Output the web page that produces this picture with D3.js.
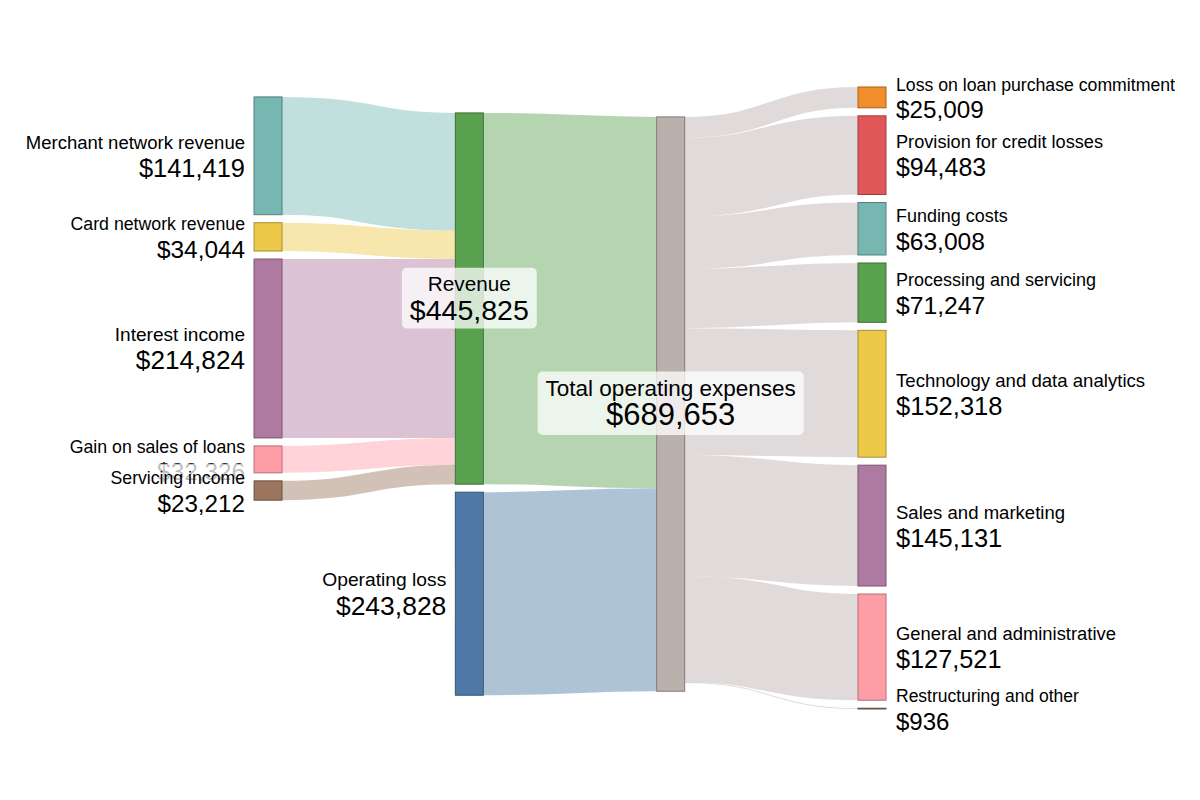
<!DOCTYPE html>
<html>
<head>
<meta charset="utf-8">
<script src="https://cdn.jsdelivr.net/npm/d3@7"></script>
<style>
  body { margin: 0; background: #fff; }
  svg { display: block; font-family: "Liberation Sans", Arial, Helvetica, sans-serif; }
</style>
</head>
<body>
<div id="chart"></div>
<script>
// nodes, in input order
var nodeNames = [
  "Merchant network revenue", "Card network revenue", "Interest income",
  "Gain on sales of loans", "Servicing income",
  "Revenue", "Operating loss", "Total operating expenses",
  "Loss on loan purchase commitment", "Provision for credit losses", "Funding costs",
  "Processing and servicing", "Technology and data analytics", "Sales and marketing",
  "General and administrative", "Restructuring and other"
];
var nodeColors = [
  "#76b7b2", "#edc949", "#af7aa1", "#ff9da7", "#9c755f",
  "#59a14f", "#4e79a7", "#bab0ac",
  "#f28e2c", "#e15759", "#76b7b2", "#59a14f", "#edc949", "#af7aa1", "#ff9da7", "#9c755f"
];

// flows
var linkSource = [0, 1, 2, 3, 4, 5, 6, 7, 7, 7, 7, 7, 7, 7, 7];
var linkTarget = [5, 5, 5, 5, 5, 7, 7, 8, 9, 10, 11, 12, 13, 14, 15];
var linkValue  = [141419, 34044, 214824, 32326, 23212, 445825, 243828,
                  25009, 94483, 63008, 71247, 152318, 145131, 127521, 936];

var width = 1200, height = 800;
var x0 = 254, x1 = 886, y0 = 87, y1 = 709;
var nodeWidth = 28, nodePadding = 8, iterations = 6;

var svg = d3.select("#chart").append("svg")
    .attr("width", width)
    .attr("height", height);

// ---- graph ----
var nodes = nodeNames.map(function(name, i) {
  return {index: i, name: name, color: nodeColors[i], sourceLinks: [], targetLinks: []};
});
var links = linkValue.map(function(v, i) {
  var l = {index: i, source: nodes[linkSource[i]], target: nodes[linkTarget[i]], value: v};
  l.source.sourceLinks.push(l);
  l.target.targetLinks.push(l);
  return l;
});
nodes.forEach(function(n) {
  n.value = Math.max(d3.sum(n.sourceLinks, function(l) { return l.value; }),
                     d3.sum(n.targetLinks, function(l) { return l.value; }));
});

// depth / height
function walk(key, linksKey, nextKey) {
  var current = new Set(nodes), next = new Set(), x = 0;
  while (current.size) {
    current.forEach(function(n) {
      n[key] = x;
      n[linksKey].forEach(function(l) { next.add(l[nextKey]); });
    });
    x++;
    current = next;
    next = new Set();
  }
  return x;
}
var n = walk("depth", "sourceLinks", "target");
walk("height", "targetLinks", "source");

// right aligned columns
var kx = (x1 - x0 - nodeWidth) / (n - 1);
var columns = d3.range(n).map(function() { return []; });
nodes.forEach(function(d) {
  d.layer = n - 1 - d.height;
  d.x0 = x0 + d.layer * kx;
  d.x1 = d.x0 + nodeWidth;
  columns[d.layer].push(d);
});

var py = nodePadding;

function byBreadth(a, b) { return a.y0 - b.y0; }
function bySource(a, b) { return byBreadth(a.source, b.source) || a.index - b.index; }
function byTarget(a, b) { return byBreadth(a.target, b.target) || a.index - b.index; }

function reorderLinks(col) {
  col.forEach(function(d) { d.sourceLinks.sort(byTarget); d.targetLinks.sort(bySource); });
}
function reorderNodeLinks(d) {
  d.targetLinks.forEach(function(l) { l.source.sourceLinks.sort(byTarget); });
  d.sourceLinks.forEach(function(l) { l.target.targetLinks.sort(bySource); });
}

// initial stacking
var ky = d3.min(columns, function(c) {
  return (y1 - y0 - (c.length - 1) * py) / d3.sum(c, function(d) { return d.value; });
});
columns.forEach(function(col) {
  var y = y0;
  col.forEach(function(d) {
    d.y0 = y;
    d.y1 = y + d.value * ky;
    y = d.y1 + py;
    d.sourceLinks.forEach(function(l) { l.width = l.value * ky; });
  });
  y = (y1 - y + py) / (col.length + 1);
  col.forEach(function(d, i) { d.y0 += y * (i + 1); d.y1 += y * (i + 1); });
  reorderLinks(col);
});

function targetTop(source, target) {
  var y = source.y0 - (source.sourceLinks.length - 1) * py / 2;
  for (var i = 0; i < source.sourceLinks.length; i++) {
    var l = source.sourceLinks[i];
    if (l.target === target) break;
    y += l.width + py;
  }
  for (var j = 0; j < target.targetLinks.length; j++) {
    var m = target.targetLinks[j];
    if (m.source === source) break;
    y -= m.width;
  }
  return y;
}
function sourceTop(source, target) {
  var y = target.y0 - (target.targetLinks.length - 1) * py / 2;
  for (var i = 0; i < target.targetLinks.length; i++) {
    var l = target.targetLinks[i];
    if (l.source === source) break;
    y += l.width + py;
  }
  for (var j = 0; j < source.sourceLinks.length; j++) {
    var m = source.sourceLinks[j];
    if (m.target === target) break;
    y -= m.width;
  }
  return y;
}

function collideDown(col, y, i, alpha) {
  for (; i < col.length; ++i) {
    var d = col[i], dy = (y - d.y0) * alpha;
    if (dy > 1e-6) { d.y0 += dy; d.y1 += dy; }
    y = d.y1 + py;
  }
}
function collideUp(col, y, i, alpha) {
  for (; i >= 0; --i) {
    var d = col[i], dy = (d.y1 - y) * alpha;
    if (dy > 1e-6) { d.y0 -= dy; d.y1 -= dy; }
    y = d.y0 - py;
  }
}
function resolveCollisions(col, alpha) {
  var i = col.length >> 1, s = col[i];
  collideUp(col, s.y0 - py, i - 1, alpha);
  collideDown(col, s.y1 + py, i + 1, alpha);
  collideUp(col, y1, col.length - 1, alpha);
  collideDown(col, y0, 0, alpha);
}

function relaxLeftToRight(alpha, beta) {
  for (var i = 1; i < columns.length; ++i) {
    var col = columns[i];
    col.forEach(function(t) {
      var y = 0, w = 0;
      t.targetLinks.forEach(function(l) {
        var v = l.value * (t.layer - l.source.layer);
        y += targetTop(l.source, t) * v;
        w += v;
      });
      if (!(w > 0)) return;
      var dy = (y / w - t.y0) * alpha;
      t.y0 += dy; t.y1 += dy;
      reorderNodeLinks(t);
    });
    col.sort(byBreadth);
    resolveCollisions(col, beta);
  }
}
function relaxRightToLeft(alpha, beta) {
  for (var i = columns.length - 2; i >= 0; --i) {
    var col = columns[i];
    col.forEach(function(s) {
      var y = 0, w = 0;
      s.sourceLinks.forEach(function(l) {
        var v = l.value * (l.target.layer - s.layer);
        y += sourceTop(s, l.target) * v;
        w += v;
      });
      if (!(w > 0)) return;
      var dy = (y / w - s.y0) * alpha;
      s.y0 += dy; s.y1 += dy;
      reorderNodeLinks(s);
    });
    col.sort(byBreadth);
    resolveCollisions(col, beta);
  }
}

for (var it = 0; it < iterations; ++it) {
  var alpha = Math.pow(0.99, it);
  var beta = Math.max(1 - alpha, (it + 1) / iterations);
  relaxRightToLeft(alpha, beta);
  relaxLeftToRight(alpha, beta);
}
// settle against the tallest (right) column
relaxRightToLeft(1, 1);

// link breadths
nodes.forEach(function(d) { d.sourceLinks.sort(byTarget); d.targetLinks.sort(bySource); });
nodes.forEach(function(d) {
  var a = d.y0, b = d.y0;
  d.sourceLinks.forEach(function(l) { l.y0 = a + l.width / 2; a += l.width; });
  d.targetLinks.forEach(function(l) { l.y1 = b + l.width / 2; b += l.width; });
});

// ---- draw ----
var linkPath = d3.linkHorizontal()
    .source(function(d) { return [d.source.x1, d.y0]; })
    .target(function(d) { return [d.target.x0, d.y1]; });

svg.append("g")
    .attr("fill", "none")
    .attr("stroke-opacity", 0.45)
  .selectAll("path")
  .data(links)
  .join("path")
    .attr("d", linkPath)
    .attr("stroke", function(d) { return d.source.color; })
    .attr("stroke-width", function(d) { return Math.max(1, d.width); });

svg.append("g")
  .selectAll("rect")
  .data(nodes)
  .join("rect")
    .attr("x", function(d) { return d.x0; })
    .attr("y", function(d) { return d.y0; })
    .attr("width", function(d) { return d.x1 - d.x0; })
    .attr("height", function(d) { return Math.max(0.5, d.y1 - d.y0); })
    .attr("fill", function(d) { return d.color; })
    .attr("stroke", function(d) { return d3.color(d.color).darker(1); })
    .attr("stroke-width", 1);

var maxValue = d3.max(nodes, function(d) { return d.value; });
var nameSize = d3.scaleLinear().domain([0, maxValue]).range([17.5, 22.5]);
var valueSize = d3.scaleLinear().domain([0, maxValue]).range([24, 31]);
var fmt = d3.format("$,.0f");

svg.append("g")
  .selectAll("g")
  .data(nodes)
  .join("g")
  .each(function(d) {
    var g = d3.select(this);
    var x, anchor;
    if (!d.targetLinks.length) { x = d.x0 - 9; anchor = "end"; }
    else if (!d.sourceLinks.length) { x = d.x1 + 10; anchor = "start"; }
    else { x = (d.x0 + d.x1) / 2; anchor = "middle"; }
    var cy = (d.y0 + d.y1) / 2;
    var bg = g.append("rect");
    var text = g.append("text")
        .attr("text-anchor", anchor)
        .attr("fill", "#000");
    text.append("tspan")
        .attr("x", x)
        .attr("y", cy - 0.38 * nameSize(d.value))
        .attr("font-size", nameSize(d.value))
        .text(d.name);
    text.append("tspan")
        .attr("x", x)
        .attr("y", cy + 21)
        .attr("font-size", valueSize(d.value))
        .text(fmt(d.value));
    var bb = text.node().getBBox();
    bg.attr("x", bb.x - 8)
      .attr("y", bb.y - 4)
      .attr("width", bb.width + 16)
      .attr("height", bb.height + 7)
      .attr("rx", 5)
      .attr("fill", "#fff")
      .attr("fill-opacity", 0.75);
  });
</script>
</body>
</html>
